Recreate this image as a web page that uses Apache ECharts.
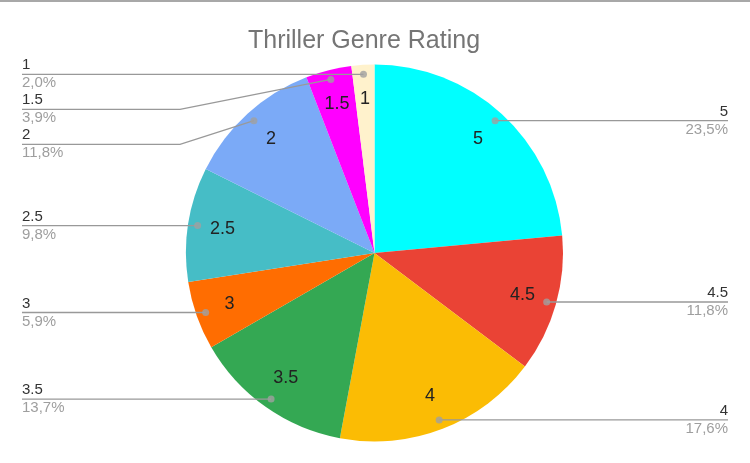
<!DOCTYPE html>
<html><head><meta charset="utf-8">
<script src="https://cdn.jsdelivr.net/npm/echarts@6/dist/echarts.min.js"></script>
<style>html,body{margin:0;padding:0;background:#fff}#wrap{position:relative;width:750px;height:463px}#topline{position:absolute;left:0;top:0;width:750px;height:2px;background:#a8a8a8;z-index:5}#chart{width:750px;height:463px}</style>
</head><body><div id="wrap"><div id="topline"></div><div id="chart"></div></div>
<script>
const chartTitle = 'Thriller Genre Rating';
const categories = ['5', '4.5', '4', '3.5', '3', '2.5', '2', '1.5', '1'];
const counts = [12, 6, 9, 7, 3, 5, 6, 2, 1];
const colors = ['#00ffff', '#ea4335', '#fbbc04', '#34a853', '#ff6d01', '#46bdc6', '#7baaf7', '#ff00ff', '#fff2cc'];

const W = 750, CX = 374.5, CY = 253, R = 188.5, DOT_R = 179, EDGE = 22;
const total = counts.reduce((a, b) => a + b, 0);
const pct = v => (v / total * 100).toFixed(1).replace('.', ',') + '%';
const pieData = categories.map((c, i) => ({ name: c, value: counts[i] }));
let cum = 0;
const dotData = counts.map(v => { const mid = cum + v / 2; cum += v; return [DOT_R, mid]; });
const FONT = '"Liberation Sans", Arial, sans-serif';

const chart = echarts.init(document.getElementById('chart'), null, { renderer: 'canvas' });
chart.setOption({
  animation: false,
  color: colors,
  title: { text: chartTitle, left: 243, top: 24, textStyle: { fontFamily: FONT, fontSize: 25, fontWeight: 'normal', color: '#757575' } },
  polar: { center: [CX, CY], radius: R },
  angleAxis: { type: 'value', min: 0, max: total, startAngle: 90, clockwise: true, show: false },
  radiusAxis: { type: 'value', min: 0, max: R, show: false },
  series: [
    { type: 'pie', z: 2, center: [CX, CY], radius: R, startAngle: 90, clockwise: true, data: pieData,
      label: { show: false }, labelLine: { show: false }, itemStyle: { borderWidth: 0 }, silent: true, emphasis: { disabled: true } },
    { type: 'pie', z: 3, center: [CX, CY], radius: [R * 0.6, R], startAngle: 90, clockwise: true, data: pieData,
      itemStyle: { color: 'rgba(0,0,0,0)', borderWidth: 0 }, avoidLabelOverlap: false, silent: true, emphasis: { disabled: true },
      label: { show: true, position: 'inside', formatter: '{b}', fontFamily: FONT, fontSize: 18, color: '#222', padding: [4, 0, 0, 0] },
      labelLine: { show: false } },
    { type: 'pie', z: 4, center: [CX, CY], radius: DOT_R, startAngle: 90, clockwise: true, data: pieData,
      itemStyle: { color: 'rgba(0,0,0,0)', borderWidth: 0 }, silent: true, emphasis: { disabled: true },
      label: { show: true, position: 'outer', alignTo: 'edge', edgeDistance: EDGE, distanceToLabelLine: 0,
        formatter: p => '{n|' + p.name + '}\n{p|' + pct(p.value) + '}',
        rich: {
          n: { fontFamily: FONT, fontSize: 15, color: '#333', lineHeight: 18 },
          p: { fontFamily: FONT, fontSize: 15, color: '#9e9e9e', lineHeight: 18 }
        } },
      labelLine: { show: true, length: 0, length2: 0, lineStyle: { color: '#999', width: 1.3 } },
      labelLayout: function (params) {
        const pts = params.labelLinePoints;
        if (!pts || pts.length < 3) return {};
        const left = pts[2][0] < CX;
        const y = pts[2][1];
        const bendX = left ? CX - R - 6 : CX + R + 6;
        const endX = left ? EDGE : W - EDGE;
        return { labelLinePoints: [pts[0], [bendX, y], [endX, y]] };
      } },
    { type: 'scatter', z: 10, coordinateSystem: 'polar', data: dotData, symbolSize: 7, itemStyle: { color: '#a0a0a0' }, silent: true }
  ]
});
</script></body></html>
